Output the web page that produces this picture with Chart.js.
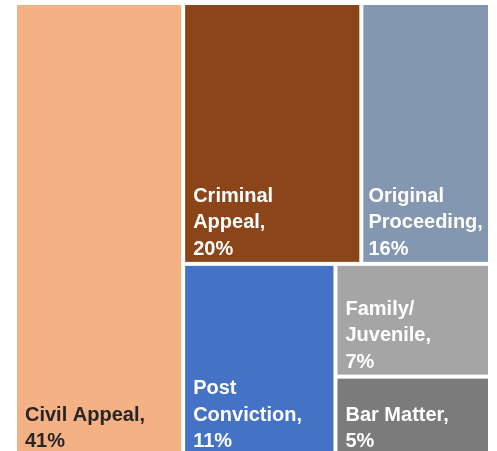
<!DOCTYPE html>
<html>
<head>
<meta charset="utf-8">
<script src="https://cdn.jsdelivr.net/npm/chart.js@4"></script>
<style>
  html, body { margin: 0; padding: 0; background: #fff; overflow: hidden; }
  /* the bottom row runs slightly past the picture edge */
  #wrap { width: 497px; height: 456px; }
</style>
</head>
<body>
<div id="wrap"><canvas id="treemap"></canvas></div>
<script>
// categories and values (cell sizes, labels as printed)
const categories = ["Civil Appeal", "Criminal Appeal", "Original Proceeding", "Post Conviction", "Family/ Juvenile", "Bar Matter"];
const sizes = [35.4, 21.6, 15.6, 13.6, 8.1, 5.7];
const percentLabels = ["41%", "20%", "16%", "11%", "7%", "5%"];
// which cells share a strip, in fill order
const strips = [[0], [1, 2], [3], [4], [5]];
const colors = ["#F4B183", "#8B4518", "#8497B0", "#4472C4", "#A5A5A5", "#7B7B7B"];
const textColors = ["#262626", "#fff", "#fff", "#fff", "#fff", "#fff"];

// strip layout in value space, orientation picked from pixel lengths
function layout(xs, ys) {
  const rects = [];
  let box = { x0: 0, x1: 100, y0: 0, y1: 100 };
  let left = sizes.reduce((a, b) => a + b, 0);
  strips.forEach(strip => {
    const sum = strip.reduce((a, i) => a + sizes[i], 0);
    const share = sum / left;
    const pw = Math.abs(xs.getPixelForValue(box.x1) - xs.getPixelForValue(box.x0));
    const ph = Math.abs(ys.getPixelForValue(box.y1) - ys.getPixelForValue(box.y0));
    if (pw >= ph) {
      // vertical strip on the left, items stacked top to bottom
      const xEnd = box.x0 + (box.x1 - box.x0) * share;
      let y = box.y0;
      strip.forEach(i => {
        const yEnd = y + (box.y1 - box.y0) * sizes[i] / sum;
        rects[i] = { x0: box.x0, x1: xEnd, y0: y, y1: yEnd };
        y = yEnd;
      });
      box = { x0: xEnd, x1: box.x1, y0: box.y0, y1: box.y1 };
    } else {
      // horizontal strip on top, items side by side
      const yEnd = box.y0 + (box.y1 - box.y0) * share;
      let x = box.x0;
      strip.forEach(i => {
        const xEnd = x + (box.x1 - box.x0) * sizes[i] / sum;
        rects[i] = { x0: x, x1: xEnd, y0: box.y0, y1: yEnd };
        x = xEnd;
      });
      box = { x0: box.x0, x1: box.x1, y0: yEnd, y1: box.y1 };
    }
    left -= sum;
  });
  return rects;
}

function wrapWords(ctx, text, maxW) {
  const words = text.split(" ");
  const lines = [];
  let cur = "";
  words.forEach(w => {
    const test = cur ? cur + " " + w : w;
    if (cur && ctx.measureText(test).width > maxW) {
      lines.push(cur);
      cur = w;
    } else {
      cur = test;
    }
  });
  if (cur) lines.push(cur);
  return lines;
}

const treemapPlugin = {
  id: "treemapCells",
  afterDatasetsDraw(chart) {
    const { ctx, scales } = chart;
    const xs = scales.x, ys = scales.y;
    const rects = layout(xs, ys);
    const gap = 2;
    ctx.save();
    rects.forEach((r, i) => {
      const left = xs.getPixelForValue(r.x0) + gap;
      const right = xs.getPixelForValue(r.x1) - gap;
      const top = ys.getPixelForValue(r.y0) + gap;
      const bottom = ys.getPixelForValue(r.y1) - gap;
      ctx.fillStyle = colors[i];
      ctx.fillRect(left, top, right - left, bottom - top);

      ctx.font = 'bold 20px "Liberation Sans", Arial, sans-serif';
      ctx.fillStyle = textColors[i];
      ctx.textAlign = "left";
      ctx.textBaseline = "alphabetic";
      const lines = wrapWords(ctx, categories[i] + ",", (right - left) * 0.8);
      lines.push(percentLabels[i]);
      // shrink the side padding when a word barely fits
      const widest = Math.max(...lines.map(l => ctx.measureText(l).width));
      const pad = Math.min(8, Math.max(2, (right - left - widest) / 2));
      const lh = 26.5;
      let y = bottom - 7 - (lines.length - 1) * lh;
      lines.forEach(l => {
        ctx.fillText(l, left + pad, y);
        y += lh;
      });
    });
    ctx.restore();
  }
};

new Chart(document.getElementById("treemap"), {
  type: "scatter",
  data: { datasets: [{ data: [] }] },
  options: {
    responsive: true,
    maintainAspectRatio: false,
    animation: false,
    layout: { padding: { left: 15, top: 3, right: 7, bottom: 0 } },
    plugins: { legend: { display: false }, tooltip: { enabled: false } },
    scales: {
      x: { type: "linear", min: 0, max: 100, display: false },
      y: { type: "linear", min: 0, max: 100, reverse: true, display: false }
    }
  },
  plugins: [treemapPlugin]
});
</script>
</body>
</html>
